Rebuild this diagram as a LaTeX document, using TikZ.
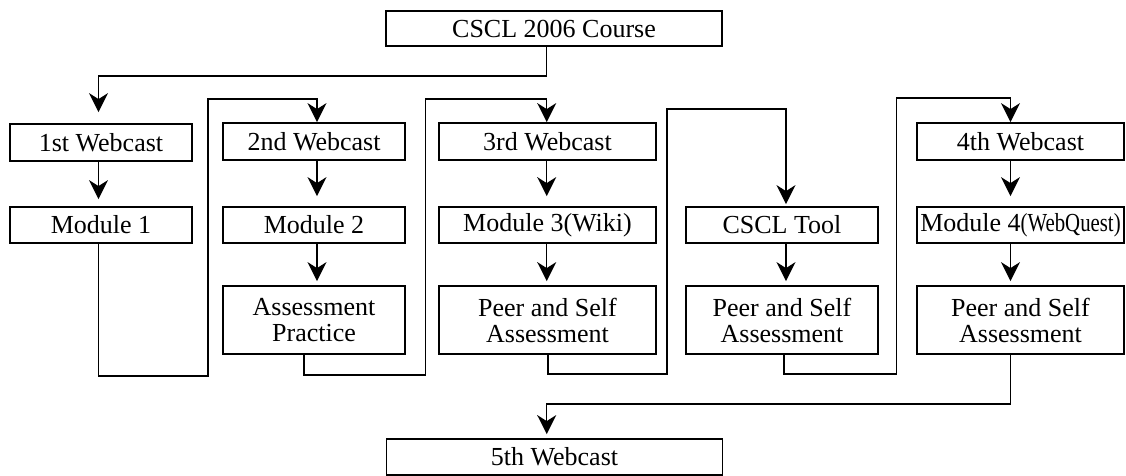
\documentclass[tikz,border=0pt]{standalone}
\usepackage{fontspec}
\usepackage{graphicx}
\setmainfont{Liberation Serif}
\usetikzlibrary{arrows.meta,calc}
\begin{document}
\begin{tikzpicture}[x=1pt,y=-1pt,
  box/.style={draw, line width=1.8pt, inner sep=0pt, align=center,
    font=\fontsize{26}{26}\selectfont},
  conn/.style={line width=1.5pt},
  arr/.style={conn, -{Stealth[length=19pt,width=19pt,inset=6pt]}}]
\useasboundingbox (0,0) rectangle (1126,476);
% nodes
\node[box, minimum width=336pt, minimum height=35pt] (top) at (554,28.5) {CSCL 2006 Course};
\node[box, minimum width=336pt, minimum height=36pt] (w5) at (554.5,457) {5th Webcast};
\node[box, minimum width=182pt, minimum height=37pt] (w1) at (101,142.5) {1st Webcast};
\node[box, minimum width=182pt, minimum height=36pt] (m1) at (101,225) {Module 1};
\node[box, minimum width=182pt, minimum height=37pt] (w2) at (314,141.5) {2nd Webcast};
\node[box, minimum width=182pt, minimum height=36pt] (m2) at (314,225) {Module 2};
\node[box, minimum width=182pt, minimum height=68pt] (a2) at (314,320) {Assessment\\Practice};
\node[box, minimum width=217pt, minimum height=37pt] (w3) at (547.5,141.5) {3rd Webcast};
\node[box, minimum width=217pt, minimum height=36pt] (m3) at (547.5,225) {Module 3(Wiki)};
\node[box, minimum width=217pt, minimum height=68pt] (a3) at (547.5,320) {Peer and Self\\Assessment};
\node[box, minimum width=192pt, minimum height=36pt] (tool) at (782,225) {CSCL Tool};
\node[box, minimum width=192pt, minimum height=68pt] (a4) at (782,320) {Peer and Self\\Assessment};
\node[box, minimum width=207pt, minimum height=37pt] (w4) at (1020.5,141.5) {4th Webcast};
\node[box, minimum width=207pt, minimum height=36pt] (m4) at (1020.5,225) {Module 4\scalebox{0.8}[1]{(WebQuest)}};
\node[box, minimum width=207pt, minimum height=68pt] (a5) at (1020.5,320) {Peer and Self\\Assessment};
% column x coordinates
\coordinate (xa) at (98.5,0);
\coordinate (xb) at (317,0);
\coordinate (xc) at (546.7,0);
\coordinate (xd) at (786,0);
\coordinate (xe) at (1010.5,0);
% connectors
\draw[arr, shorten >=11pt] (top.south -| xc) -- ++(0,29) -| (w1.north -| xa);
\draw[arr, shorten >=7pt] (w1.south -| xa) -- (m1.north -| xa);
\draw[arr] (m1.south -| xa) -- ++(0,132) -| (208,99) -| (w2.north -| xb);
\draw[arr, shorten >=10pt] (w2.south -| xb) -- (m2.north -| xb);
\draw[arr, shorten >=4pt] (m2.south -| xb) -- (a2.north -| xb);
\draw[arr] (a2.south -| 304,0) -- ++(0,20) -| (425.7,99) -| (w3.north -| xc);
\draw[arr, shorten >=10pt] (w3.south -| xc) -- (m3.north -| xc);
\draw[arr, shorten >=4pt] (m3.south -| xc) -- (a3.north -| xc);
\draw[arr, shorten >=2pt] (a3.south -| 548,0) -- ++(0,19) -| (667,109) -| (tool.north -| xd);
\draw[arr, shorten >=4pt] (tool.south -| xd) -- (a4.north -| xd);
\draw[arr] (a4.south -| 784,0) -- ++(0,19) -| (896.7,98) -| (w4.north -| xe);
\draw[arr, shorten >=10pt] (w4.south -| xe) -- (m4.north -| xe);
\draw[arr, shorten >=4pt] (m4.south -| xe) -- (a5.north -| xe);
\draw[arr, shorten >=4pt] (a5.south -| xe) -- ++(0,49) -| (w5.north -| xc);
\end{tikzpicture}
\end{document}
